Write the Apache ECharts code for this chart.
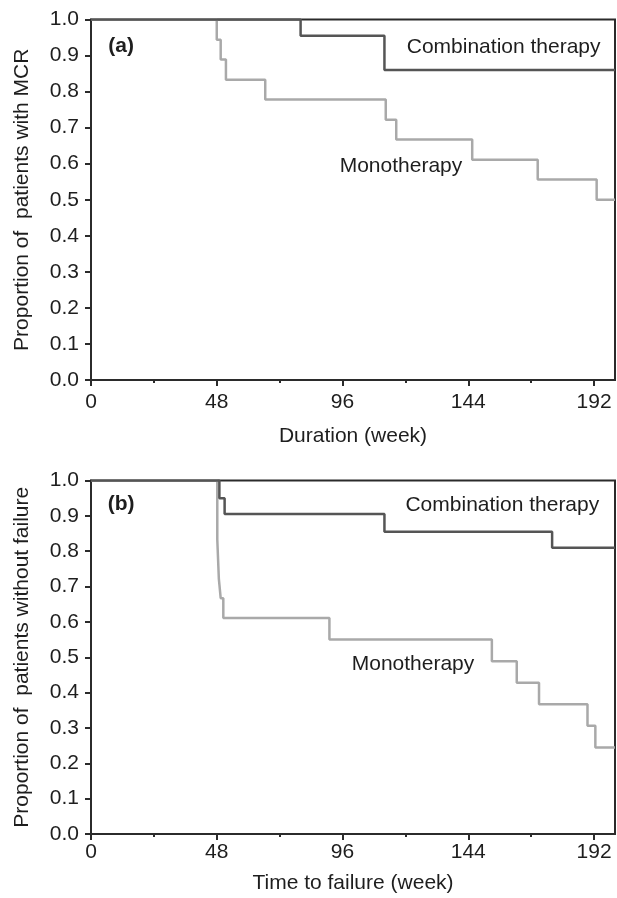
<!DOCTYPE html>
<html>
<head>
<meta charset="utf-8">
<script src="https://cdn.jsdelivr.net/npm/echarts@6/dist/echarts.min.js"></script>
<style>
  html, body { margin: 0; padding: 0; background: #fff; }
  #grafico { width: 617px; height: 898px; }
</style>
</head>
<body>
<div id="grafico"></div>
<script>
// panel (a): duration of MCR
const semanasCombA = [0, 80, 112, 200]
const valoresCombA = [1, 0.955, 0.86, 0.86]
const semanasMonoA = [0, 48, 49.5, 51.5, 66.5, 112.5, 116.5, 145.5, 170.5, 193, 200]
const valoresMonoA = [1, 0.944, 0.889, 0.833, 0.778, 0.722, 0.667, 0.611, 0.556, 0.5, 0.5]

// panel (b): time to failure
const semanasCombB = [0, 49, 51, 112, 176, 200]
const valoresCombB = [1, 0.95, 0.905, 0.855, 0.81, 0.81]
const semanasMonoB = [0, 48.2, 48.8, 49.5, 50.5, 91, 153, 162.5, 171, 189.5, 192.5, 200]
const valoresMonoB = [1, 0.833, 0.722, 0.667, 0.611, 0.55, 0.489, 0.428, 0.367, 0.306, 0.245, 0.245]

const ticksX = [0, 48, 96, 144, 192]
const ticksMenoresX = [24, 72, 120, 168]

const FUENTE = "'Liberation Sans', Arial, sans-serif"
const colorTexto = '#1e1e1e'
const colorEje = '#2b2b2b'
const colorComb = '#555555'
const colorMono = '#a9a9a9'

const unir = (xs, ys) => xs.map((x, i) => [x, ys[i]])

const etiqueta = (texto, coord, negrita) => ({
  coord,
  symbol: 'rect',
  symbolSize: 0,
  label: {
    show: true,
    position: 'inside',
    formatter: texto,
    fontFamily: FUENTE,
    fontSize: 21,
    fontWeight: negrita ? 'bold' : 'normal',
    color: colorTexto
  }
})

const ejeX = (idx, nombre, margen, separacion) => ({
  type: 'value',
  gridIndex: idx,
  min: 0,
  max: 200,
  name: nombre,
  nameLocation: 'middle',
  nameGap: separacion,
  nameTextStyle: { fontFamily: FUENTE, fontSize: 21, color: colorTexto },
  axisLine: { show: true, lineStyle: { color: colorEje, width: 2 } },
  axisTick: { show: true, length: 6, customValues: ticksX, lineStyle: { color: colorEje, width: 2 } },
  axisLabel: { customValues: ticksX, margin: margen, fontFamily: FUENTE, fontSize: 21, color: colorTexto },
  splitLine: { show: false }
})

const ejeXMenor = (idx) => ({
  type: 'value',
  gridIndex: idx,
  min: 0,
  max: 200,
  position: 'bottom',
  axisLine: { show: false },
  axisTick: { show: true, length: 3, customValues: ticksMenoresX, lineStyle: { color: colorEje, width: 2 } },
  axisLabel: { show: false },
  splitLine: { show: false }
})

const ejeY = (idx, nombre) => ({
  type: 'value',
  gridIndex: idx,
  min: 0,
  max: 1,
  interval: 0.1,
  name: nombre,
  nameLocation: 'middle',
  nameGap: 58,
  nameTextStyle: { fontFamily: FUENTE, fontSize: 21, color: colorTexto },
  axisLine: { show: true, lineStyle: { color: colorEje, width: 2 } },
  axisTick: { show: true, length: 6, lineStyle: { color: colorEje, width: 2 } },
  axisLabel: { margin: 12, fontFamily: FUENTE, fontSize: 21, color: colorTexto, formatter: v => v.toFixed(1) },
  splitLine: { show: false }
})

const serie = (nombre, xIdx, yIdx, datos, color, ancho, marcas) => ({
  name: nombre,
  type: 'line',
  step: 'end',
  xAxisIndex: xIdx,
  yAxisIndex: yIdx,
  data: datos,
  symbol: 'none',
  lineStyle: { color, width: ancho },
  z: color === colorComb ? 3 : 2,
  markPoint: marcas ? { silent: true, data: marcas } : undefined,
  animation: false
})

const grafico = echarts.init(document.getElementById('grafico'))

const opciones = {
  backgroundColor: '#ffffff',
  animation: false,
  grid: [
    { left: 91, top: 19.5, width: 524, height: 360.5, show: true, borderColor: colorEje, borderWidth: 2 },
    { left: 91, top: 480.5, width: 524, height: 353.5, show: true, borderColor: colorEje, borderWidth: 2 }
  ],
  xAxis: [
    ejeX(0, 'Duration (week)', 12, 46),
    ejeX(1, 'Time to failure (week)', 8, 39),
    ejeXMenor(0),
    ejeXMenor(1)
  ],
  yAxis: [
    ejeY(0, 'Proportion of  patients with MCR'),
    ejeY(1, 'Proportion of  patients without failure')
  ],
  series: [
    serie('Monotherapy A', 0, 0, unir(semanasMonoA, valoresMonoA), colorMono, 2.5, [
      etiqueta('Monotherapy', [118.3, 0.593]),
      etiqueta('(a)', [11.5, 0.926], true)
    ]),
    serie('Combination A', 0, 0, unir(semanasCombA, valoresCombA), colorComb, 2.5, [
      etiqueta('Combination therapy', [157.5, 0.923])
    ]),
    serie('Monotherapy B', 1, 1, unir(semanasMonoB, valoresMonoB), colorMono, 2.5, [
      etiqueta('Monotherapy', [122.9, 0.481]),
      etiqueta('(b)', [11.5, 0.934], true)
    ]),
    serie('Combination B', 1, 1, unir(semanasCombB, valoresCombB), colorComb, 2.5, [
      etiqueta('Combination therapy', [157, 0.931])
    ])
  ]
}

grafico.setOption(opciones)
</script>
</body>
</html>
